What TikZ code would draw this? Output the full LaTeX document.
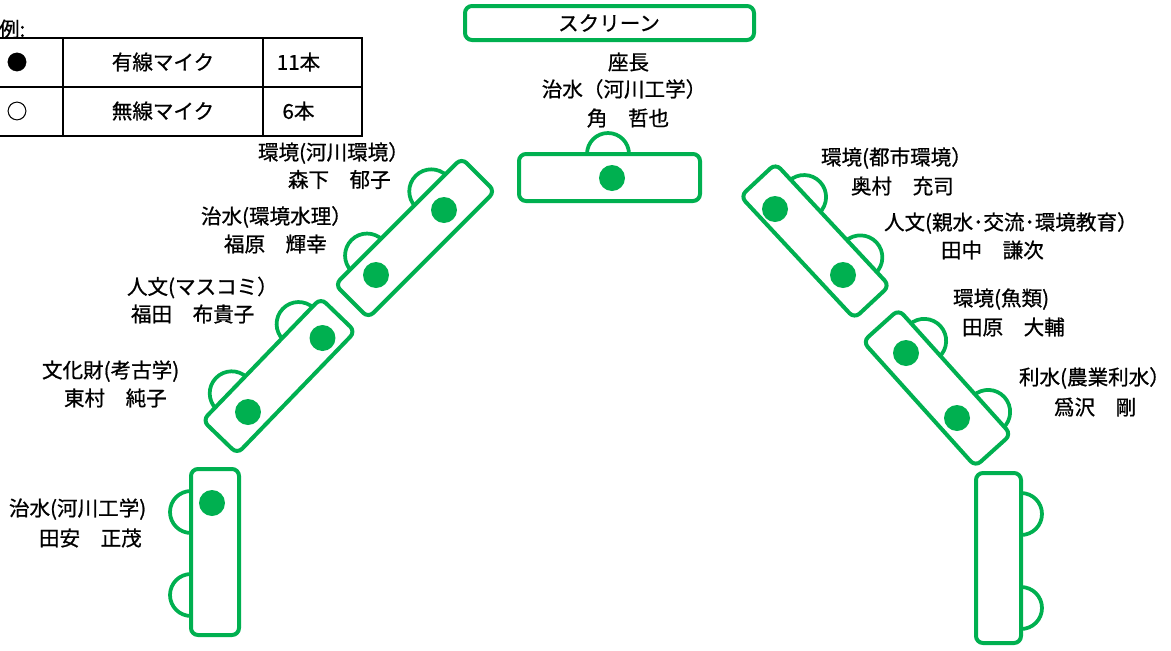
\documentclass[tikz,border=0pt]{standalone}
\usepackage{fontspec}
\setmainfont{Noto Sans CJK JP}[RawFeature={embolden=0.8}]
\definecolor{grn}{HTML}{00B050}
\tikzset{
  lbl/.style={font=\fontsize{11.7pt}{14pt}\selectfont, inner sep=0pt, outer sep=0pt},
  lw/.style={lbl, anchor=base west},
  lc/.style={lbl, anchor=base},
  tbl/.style={draw=grn, line width=0.08cm, fill=white, rounded corners=0.14cm},
  seat/.style={draw=grn, line width=0.075cm, fill=white},
  mic/.style={fill=grn},
  leg/.style={line width=0.04cm, black},
}
\begin{document}
\begin{tikzpicture}[x=0.02cm,y=-0.02cm]
\useasboundingbox (0,0) rectangle (1171,650);

% legend
\draw[leg] (-5,38) -- (362,38) -- (362,136) -- (-5,136);
\draw[leg] (-5,87) -- (362,87);
\draw[leg] (63,38) -- (63,136);
\draw[leg] (263,38) -- (263,136);
\node[lw] (legt) at (-1,36.8) {例:};
\node[lc] (lg1) at (17,69.8) {●};
\node[lc] (lg2) at (17,118.8) {○};
\node[lc] (lg3) at (163,69.8) {有線マイク};
\node[lc] (lg4) at (163,118.8) {無線マイク};
\node[lc] (lg5) at (298.5,69.8) {11本};
\node[lc] (lg6) at (298.5,118.8) {6本};

% screen
\draw[tbl, fill=none] (465,6) rectangle (754,40);
\node[lc] (scr) at (609,30.8) {スクリーン};

% chair table
\draw[seat] (608,154) circle[radius=0.42cm];
\draw[tbl] (519,154) rectangle (700,201);

% left vertical table
\draw[seat] (191,512) circle[radius=0.42cm];
\draw[seat] (191,595) circle[radius=0.42cm];
\draw[tbl] (191,469) rectangle (239,635);

% right vertical table
\draw[seat] (1021,514) circle[radius=0.42cm];
\draw[seat] (1021,608) circle[radius=0.42cm];
\draw[tbl] (976,473) rectangle (1021,643);

% L1
\begin{scope}[shift={(415,238)}, rotate=45]
  \draw[seat] (44.5,-21.5) circle[radius=0.44cm];
  \draw[seat] (-46.3,-21.5) circle[radius=0.44cm];
  \draw[tbl] (-89.5,-23.5) rectangle (89.5,23.5);
\end{scope}
% L2
\begin{scope}[shift={(279,376)}, rotate=46]
  \draw[seat] (51,-22) circle[radius=0.44cm];
  \draw[seat] (-45.3,-22) circle[radius=0.44cm];
  \draw[tbl] (-85,-24) rectangle (85,24);
\end{scope}
% R1
\begin{scope}[shift={(815,241)}, rotate=-47]
  \draw[seat] (-39.6,-22) circle[radius=0.44cm];
  \draw[seat] (42.9,-22) circle[radius=0.44cm];
  \draw[tbl] (-83.5,-24) rectangle (83.5,24);
\end{scope}
% R2
\begin{scope}[shift={(937,388)}, rotate=-48]
  \draw[seat] (-43.6,-22) circle[radius=0.44cm];
  \draw[seat] (52,-22) circle[radius=0.44cm];
  \draw[tbl] (-84,-24) rectangle (84,24);
\end{scope}

% microphones
\foreach \p in {(444,210),(376,275),(322.5,338),(248,412),(212,503),(612,178),(775,209),(843,275),(906,353),(957,418)}
  \fill[mic] \p circle[radius=0.26cm];

% chair labels
\node[lc] (c1) at (628.5,69.8) {座長};
\node[lc] (c2) at (624,96.8) {治水（河川工学）};
\node[lc] (c3) at (628,125.8) {角　哲也};

% left labels
\node[lw] (a1) at (258,159.8) {環境(河川環境）};
\node[lw] (a2) at (288,187.3) {森下　郁子};
\node[lw] (a3) at (201,223.8) {治水(環境水理）};
\node[lw] (a4) at (224,251.8) {福原　輝幸};
\node[lw] (a5) at (127,294.3) {人文(マスコミ）};
\node[lw] (a6) at (131,321.8) {福田　布貴子};
\node[lw] (a7) at (42,377.8) {文化財(考古学)};
\node[lw] (a8) at (64,405.8) {東村　純子};
\node[lw] (a9) at (9,515.8) {治水(河川工学)};
\node[lw] (a10) at (39,545.8) {田安　正茂};

% right labels
\node[lw] (b1) at (821,164.8) {環境(都市環境）};
\node[lw] (b2) at (851,193.8) {奥村　充司};
\node[lw] (b3) at (884,229.8) {人文(親水･交流･環境教育）};
\node[lw] (b4) at (941,257.8) {田中　謙次};
\node[lw] (b5) at (953,305.8) {環境(魚類)};
\node[lw] (b6) at (962,334.8) {田原　大輔};
\node[lw] (b7) at (1019,384.8) {利水(農業利水）};
\node[lw] (b8) at (1054,414.8) {爲沢　剛};
\end{tikzpicture}
\end{document}
